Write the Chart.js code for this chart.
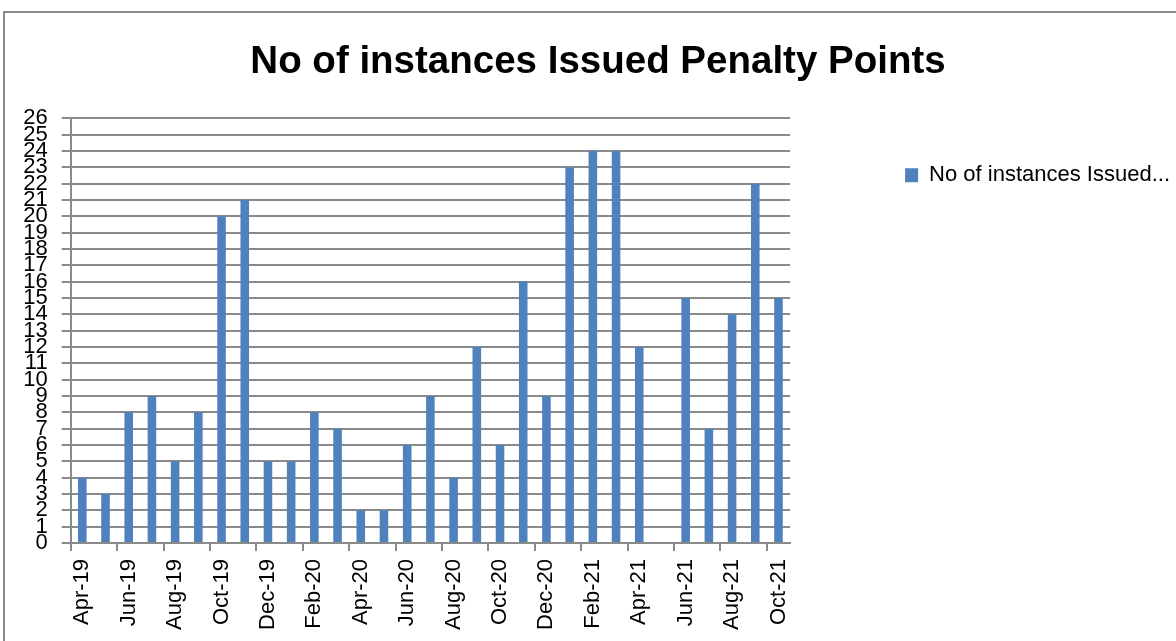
<!DOCTYPE html>
<html>
<head>
<meta charset="utf-8">
<script src="https://cdn.jsdelivr.net/npm/chart.js@4.4.1/dist/chart.umd.min.js"></script>
<style>
html,body{margin:0;padding:0;background:#fff;}
#wrap{position:relative;width:1176px;height:641px;overflow:hidden;background:#fff;}
#frame{position:absolute;left:3px;top:11px;width:1300px;height:800px;border-left:2px solid #8a8a8a;border-top:2px solid #8a8a8a;pointer-events:none;}
canvas{position:absolute;left:0;top:0;}
</style>
</head>
<body>
<div id="wrap"><canvas id="c" width="1176" height="641"></canvas><div id="frame"></div></div>
<script>
const chartTitle = 'No of instances Issued Penalty Points';
const seriesName = 'No of instances Issued...';
const months = ['Apr-19','May-19','Jun-19','Jul-19','Aug-19','Sep-19','Oct-19','Nov-19','Dec-19',
  'Jan-20','Feb-20','Mar-20','Apr-20','May-20','Jun-20','Jul-20','Aug-20','Sep-20','Oct-20','Nov-20','Dec-20',
  'Jan-21','Feb-21','Mar-21','Apr-21','May-21','Jun-21','Jul-21','Aug-21','Sep-21','Oct-21'];
const counts = [4,3,8,9,5,8,20,21,5,5,8,7,2,2,6,9,4,12,6,16,9,23,24,24,12,0,15,7,14,22,15];
const yMin = 0, yMax = 26, yStep = 1;

const GRID = '#8a8a8a';
const BAR = '#4f81bd';
const FONT = 'Liberation Sans';

new Chart(document.getElementById('c'), {
  type: 'bar',
  data: {
    labels: months,
    datasets: [{
      label: seriesName,
      data: counts,
      backgroundColor: BAR,
      borderWidth: 0,
      categoryPercentage: 1,
      barPercentage: 0.37,
      yAxisID: 'y'
    }]
  },
  options: {
    responsive: false,
    animation: false,
    devicePixelRatio: 1,
    layout: { padding: { left: 16, right: -4, top: 0, bottom: 0 } },
    plugins: {
      title: {
        display: true, text: chartTitle, color: '#000',
        font: { family: FONT, size: 38.5, weight: 'bold' },
        padding: { top: 39, bottom: 33 }
      },
      legend: {
        display: true, position: 'right', align: 'start', fullSize: false, maxWidth: 400,
        labels: { boxWidth: 13, boxHeight: 14, padding: 46, color: '#000', font: { family: FONT, size: 22 } }
      },
      tooltip: { enabled: false }
    },
    scales: {
      x: {
        type: 'category', offset: true,
        grid: {
          display: true, offset: true, drawOnChartArea: false, drawTicks: true, tickLength: 8, lineWidth: 2,
          color: ctx => (ctx.type === 'tick' && ctx.index % 2 === 0) ? GRID : 'rgba(0,0,0,0)'
        },
        border: { display: true, color: GRID, width: 2 },
        ticks: {
          autoSkip: false, maxRotation: 90, minRotation: 90, padding: 8, color: '#000',
          font: { family: FONT, size: 22 },
          callback: (v, i) => i % 2 === 0 ? months[i] : ''
        },
        afterFit: s => { s.height = 98; }
      },
      y: {
        type: 'linear', position: 'left', min: yMin, max: yMax,
        grid: { color: GRID, lineWidth: 2, tickLength: 9 },
        border: { display: true, color: GRID, width: 2 },
        ticks: { stepSize: yStep, autoSkip: false, padding: 14, color: '#000', font: { family: FONT, size: 22 } },
        afterFit: s => { s.width = 54.7; }
      },
      y2: {
        type: 'linear', position: 'right', display: true,
        grid: { display: false }, border: { display: false }, ticks: { display: false },
        afterFit: s => { s.width = 69; }
      }
    }
  }
});
</script>
</body>
</html>
